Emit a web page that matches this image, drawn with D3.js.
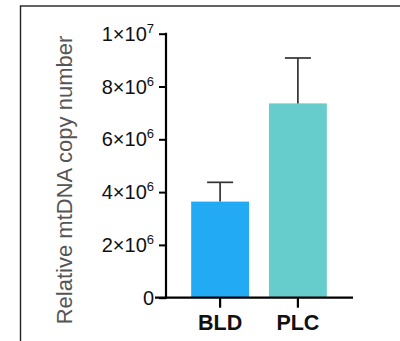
<!DOCTYPE html>
<html>
<head>
<meta charset="utf-8">
<script src="https://cdn.jsdelivr.net/npm/d3@7"></script>
<style>
  html, body { margin: 0; padding: 0; background: #fff; }
  svg { display: block; }
  text { font-family: "Liberation Sans", Arial, sans-serif; }
</style>
</head>
<body>
<svg id="chart" width="400" height="341"></svg>
<script>
// Groups and their mean copy numbers with the upper error (mean + SD)
const groups = ["BLD", "PLC"];
const means = [3.64e6, 7.36e6];
const errorTops = [4.37e6, 9.08e6];
const barColors = ["#22aaf5", "#66cccc"];
const tickValues = [0, 2e6, 4e6, 6e6, 8e6, 1e7];
const tickMantissa = ["0", "2", "4", "6", "8", "1"];
const tickExponent = ["", "6", "6", "6", "6", "7"];
const yTitle = "Relative mtDNA copy number";

const svg = d3.select("#chart");

// outer frame (runs off the right and bottom edges)
svg.append("rect")
  .attr("x", 20.5).attr("y", 6)
  .attr("width", 420).attr("height", 360)
  .attr("fill", "none").attr("stroke", "#222").attr("stroke-width", 1.4);

const y = d3.scaleLinear().domain([0, 1e7]).range([297.7, 33.7]);
const x = d3.scaleBand().domain(groups).range([162, 356]).paddingInner(0.256).paddingOuter(0.375);

const axisX = 166;
const baseY = y(0);

// bars
svg.append("g").selectAll("rect").data(groups).join("rect")
  .attr("x", d => x(d))
  .attr("width", x.bandwidth())
  .attr("y", (d, i) => y(means[i]))
  .attr("height", (d, i) => baseY - y(means[i]))
  .attr("fill", (d, i) => barColors[i]);

// error bars (upper only)
const eb = svg.append("g").attr("stroke", "#333").attr("stroke-width", 1.7);
groups.forEach((g, i) => {
  const cx = x(g) + x.bandwidth() / 2;
  eb.append("line").attr("x1", cx).attr("x2", cx)
    .attr("y1", y(means[i])).attr("y2", y(errorTops[i]));
  eb.append("line").attr("x1", cx - 13).attr("x2", cx + 13)
    .attr("y1", y(errorTops[i])).attr("y2", y(errorTops[i]));
});

// y axis
const yAxis = d3.axisLeft(y).tickValues(tickValues).tickSize(7).tickFormat("");
const gy = svg.append("g").attr("transform", `translate(${axisX},0)`).call(yAxis);
gy.select(".domain").remove();
gy.selectAll(".tick line").attr("stroke", "#000").attr("stroke-width", 2);
svg.append("line").attr("x1", axisX).attr("x2", axisX)
  .attr("y1", y(1e7) - 1).attr("y2", baseY + 1)
  .attr("stroke", "#000").attr("stroke-width", 2.2);

// y tick labels with superscript exponents
const labels = svg.append("g").attr("fill", "#111").attr("font-size", 20).attr("text-anchor", "end");
tickValues.forEach((v, i) => {
  const t = labels.append("text")
    .attr("x", axisX - 12)
    .attr("y", y(v) + 7);
  if (tickExponent[i]) {
    t.append("tspan").text(tickMantissa[i] + "\u00d710");
    t.append("tspan").attr("font-size", 13).attr("dy", -8).text(tickExponent[i]);
  } else {
    t.text(tickMantissa[i]);
  }
});

// x axis
svg.append("line").attr("x1", 155).attr("x2", 353)
  .attr("y1", baseY).attr("y2", baseY)
  .attr("stroke", "#000").attr("stroke-width", 2.2);
const gx = svg.append("g").attr("transform", `translate(0,${baseY})`)
  .call(d3.axisBottom(x).tickSize(10).tickSizeOuter(0).tickFormat(""));
gx.select(".domain").remove();
gx.selectAll(".tick line").attr("stroke", "#000").attr("stroke-width", 2.2);

// category labels
svg.append("g").selectAll("text").data(groups).join("text")
  .attr("x", d => x(d) + x.bandwidth() / 2)
  .attr("y", 330)
  .attr("text-anchor", "middle")
  .attr("font-weight", "bold")
  .attr("font-size", 21.5)
  .attr("fill", "#111")
  .text(d => d);

// y axis title
svg.append("text")
  .attr("transform", `translate(72,${180}) rotate(-90)`)
  .attr("text-anchor", "middle")
  .attr("font-size", 22)
  .attr("fill", "#555")
  .text(yTitle);
</script>
</body>
</html>
